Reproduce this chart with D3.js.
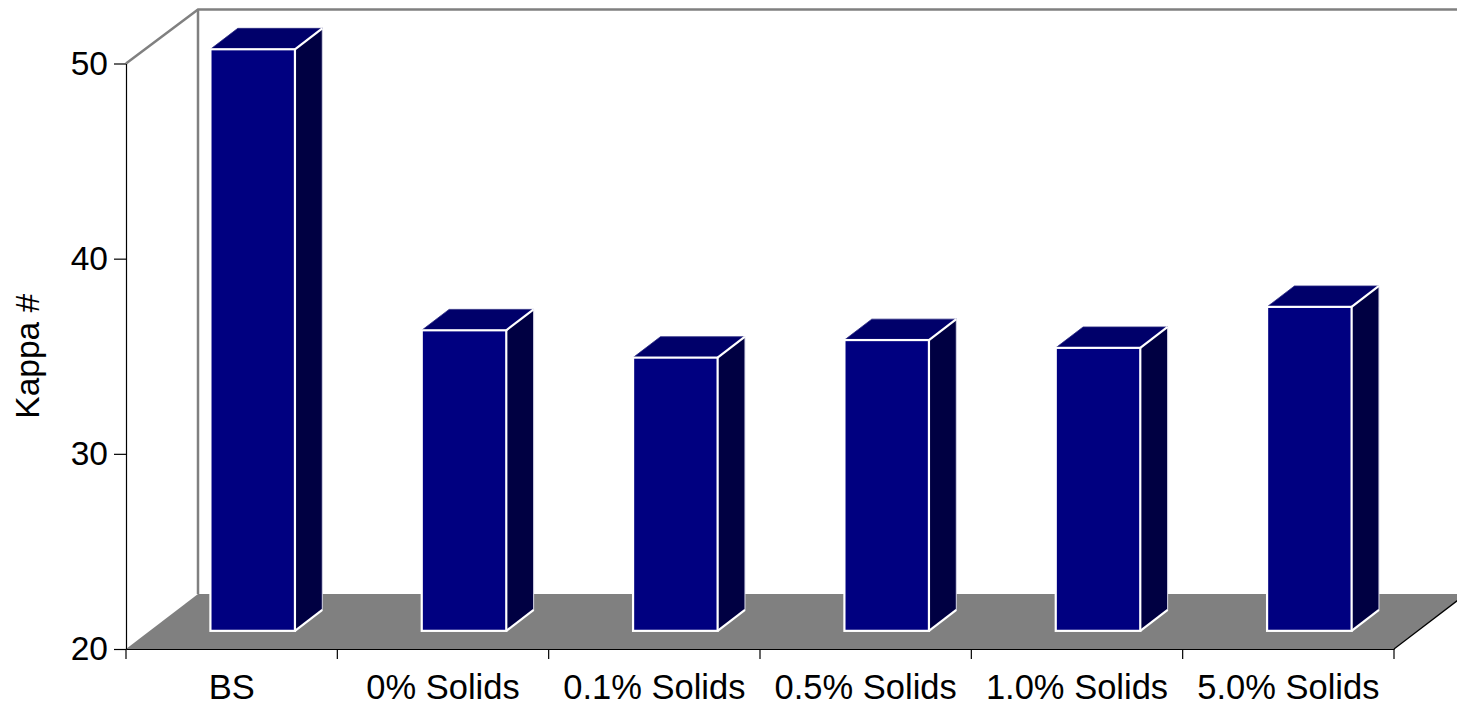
<!DOCTYPE html>
<html>
<head>
<meta charset="utf-8">
<script src="https://cdn.jsdelivr.net/npm/d3@7"></script>
<style>
  html, body { margin: 0; padding: 0; background: #ffffff; }
  svg { display: block; font-family: Arial, "Liberation Sans", Helvetica, sans-serif; }
</style>
</head>
<body>
<svg id="chart" width="1457" height="707"></svg>
<script>
// Kappa number per sample
const categories = ["BS", "0% Solids", "0.1% Solids", "0.5% Solids", "1.0% Solids", "5.0% Solids"];
const kappa = [49.8, 35.4, 34.0, 34.9, 34.5, 36.6];
const yTicks = [20, 30, 40, 50];
const yDomain = [20, 50];
const yLabel = "Kappa #";

const svg = d3.select("#chart");

// plot frame (front plane) and 3D depth offset
const plotLeft = 126, plotRight = 1394, plotBottom = 649, plotTop = 63.5;
const depthX = 72, depthY = 55;
const zFront = 0.33, zBack = 0.71;   // bar depth within the floor

const x = d3.scaleBand().domain(categories).range([plotLeft, plotRight]).padding(0);
const y = d3.scaleLinear().domain(yDomain).range([plotBottom, plotTop]);
const bw = x.bandwidth();
const baseY = y(yDomain[0]);

// floor
svg.append("polygon")
  .attr("points", [
    [plotLeft, baseY], [plotRight, baseY],
    [plotRight + depthX, baseY - depthY], [plotLeft + depthX, baseY - depthY]
  ].map(p => p.join(",")).join(" "))
  .attr("fill", "#808080");
svg.append("line")
  .attr("x1", plotRight).attr("y1", baseY)
  .attr("x2", plotRight + depthX).attr("y2", baseY - depthY)
  .attr("stroke", "#000").attr("stroke-width", 1.2);

// back wall outline
const wall = svg.append("g").attr("stroke", "#808080").attr("stroke-width", 2.5).attr("fill", "none");
wall.append("path")
  .attr("d", `M${plotLeft},${y(yDomain[1])} L${plotLeft + depthX},${y(yDomain[1]) - depthY + 1} L1460,${y(yDomain[1]) - depthY + 1}`);
wall.append("line")
  .attr("x1", plotLeft + depthX).attr("y1", y(yDomain[1]) - depthY + 1)
  .attr("x2", plotLeft + depthX).attr("y2", baseY - depthY);

// bars
const frontDx = zFront * depthX, frontDy = zFront * depthY;
const sideDx = (zBack - zFront) * depthX, sideDy = (zBack - zFront) * depthY;
const bars = svg.append("g");
categories.forEach((c, i) => {
  const x0 = x(c) + bw * 0.287 + frontDx;
  const x1 = x0 + bw * 0.4;
  const yT = y(kappa[i]) - frontDy;
  const yB = baseY - frontDy;
  const g = bars.append("g");
  // top face
  g.append("polygon")
    .attr("points", [[x0, yT], [x1, yT], [x1 + sideDx, yT - sideDy], [x0 + sideDx, yT - sideDy]].map(p => p.join(",")).join(" "))
    .attr("fill", "#00006a").attr("stroke", "#2a2a80").attr("stroke-width", 0.8);
  // side face
  g.append("polygon")
    .attr("points", [[x1, yT], [x1 + sideDx, yT - sideDy], [x1 + sideDx, yB - sideDy], [x1, yB]].map(p => p.join(",")).join(" "))
    .attr("fill", "#000042").attr("stroke", "#d8d8e8").attr("stroke-width", 1);
  // white edges from the front face into depth
  g.append("line")
    .attr("x1", x1).attr("y1", yT).attr("x2", x1 + sideDx).attr("y2", yT - sideDy)
    .attr("stroke", "#fff").attr("stroke-width", 2.2);
  g.append("line")
    .attr("x1", x1).attr("y1", yB).attr("x2", x1 + sideDx).attr("y2", yB - sideDy)
    .attr("stroke", "#fff").attr("stroke-width", 2.2);
  // front face
  g.append("rect")
    .attr("x", x0).attr("y", yT).attr("width", x1 - x0).attr("height", yB - yT)
    .attr("fill", "#000080").attr("stroke", "#fff").attr("stroke-width", 2.2);
});

// y axis
const yAxis = svg.append("g")
  .attr("transform", `translate(${plotLeft},0)`)
  .call(d3.axisLeft(y).tickValues(yTicks).tickSize(12).tickSizeOuter(0).tickPadding(6).tickFormat(d3.format("d")));
yAxis.select(".domain").attr("stroke", "#000").attr("stroke-width", 1.2);
yAxis.selectAll(".tick line").attr("stroke", "#000").attr("stroke-width", 1.2);
yAxis.selectAll(".tick text").attr("font-size", 33.5).attr("fill", "#000")
  .attr("font-family", "Arial, 'Liberation Sans', sans-serif");

// x axis: labels centred in bands, ticks at band boundaries
const xAxis = svg.append("g")
  .attr("transform", `translate(0,${baseY})`)
  .call(d3.axisBottom(x).tickSize(0).tickSizeOuter(0).tickPadding(26));
xAxis.select(".domain").attr("stroke", "#000").attr("stroke-width", 1.2);
xAxis.selectAll(".tick text").attr("font-size", 34.5).attr("fill", "#000")
  .attr("font-family", "Arial, 'Liberation Sans', sans-serif");
const bounds = categories.map(c => x(c)).concat([x(categories[categories.length - 1]) + bw]);
xAxis.selectAll("line.bound").data(bounds).enter().append("line")
  .attr("class", "bound")
  .attr("x1", d => d).attr("x2", d => d)
  .attr("y1", 0).attr("y2", 10)
  .attr("stroke", "#000").attr("stroke-width", 1.2);

// y axis title
svg.append("text")
  .attr("transform", `translate(39,${(plotTop + plotBottom) / 2}) rotate(-90)`)
  .attr("text-anchor", "middle")
  .attr("font-size", 33.5)
  .attr("fill", "#000")
  .text(yLabel);
</script>
</body>
</html>
